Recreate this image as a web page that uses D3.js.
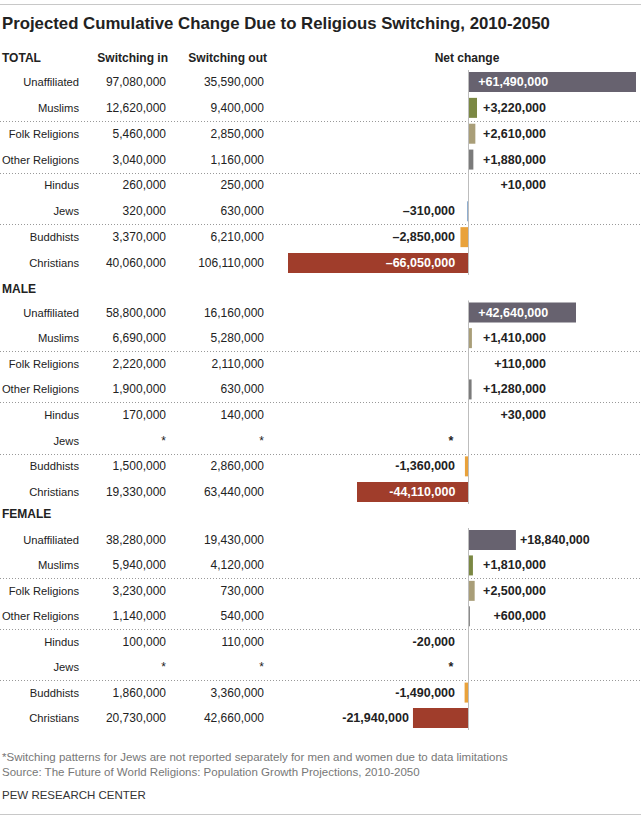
<!DOCTYPE html>
<html>
<head>
<meta charset="utf-8">
<script src="https://cdn.jsdelivr.net/npm/d3@7"></script>
<style>
  html, body { margin: 0; padding: 0; background: #fff; }
  svg { display: block; }
  text { font-family: "Liberation Sans", Arial, sans-serif; }
</style>
</head>
<body>
<svg id="chart" width="641" height="831"></svg>
<script>
// ---------- data ----------
const religions = ["Unaffiliated", "Muslims", "Folk Religions", "Other Religions", "Hindus", "Jews", "Buddhists", "Christians"];
const columnHeaders = ["Switching in", "Switching out", "Net change"];
const panelNames = ["TOTAL", "MALE", "FEMALE"];

const totalIn  = [97080000, 12620000, 5460000, 3040000, 260000, 320000, 3370000, 40060000];
const totalOut = [35590000, 9400000, 2850000, 1160000, 250000, 630000, 6210000, 106110000];
const totalNet = [61490000, 3220000, 2610000, 1880000, 10000, -310000, -2850000, -66050000];

const maleIn  = [58800000, 6690000, 2220000, 1900000, 170000, null, 1500000, 19330000];
const maleOut = [16160000, 5280000, 2110000, 630000, 140000, null, 2860000, 63440000];
const maleNet = [42640000, 1410000, 110000, 1280000, 30000, null, -1360000, -44110000];

const femaleIn  = [38280000, 5940000, 3230000, 1140000, 100000, null, 1860000, 20730000];
const femaleOut = [19430000, 4120000, 730000, 540000, 110000, null, 3360000, 42660000];
const femaleNet = [18840000, 1810000, 2500000, 600000, -20000, null, -1490000, -21940000];

const footnote = "*Switching patterns for Jews are not reported separately for men and women due to data limitations";
const source = "Source: The Future of World Religions: Population Growth Projections, 2010-2050";
const credit = "PEW RESEARCH CENTER";
const title = "Projected Cumulative Change Due to Religious Switching, 2010-2050";

// ---------- styles ----------
const colors = {
  "Unaffiliated": "#67626f",
  "Muslims": "#7b8843",
  "Folk Religions": "#a99e78",
  "Other Religions": "#7b7b7b",
  "Hindus": "#222222",
  "Jews": "#4d7fb5",
  "Buddhists": "#e9a23b",
  "Christians": "#a03d2b"
};

const svg = d3.select("#chart");
const W = 641;

// top rule
svg.append("line").attr("x1", 0).attr("x2", W).attr("y1", 4.5).attr("y2", 4.5)
  .attr("stroke", "#c8c8c8").attr("stroke-width", 1);

const titleEl = svg.append("text").attr("x", 2).attr("y", 29)
  .attr("font-weight", "bold").attr("font-size", 20).attr("fill", "#222")
  .text(title);
// fit title to the reference width
const tw = titleEl.node().getComputedTextLength();
titleEl.attr("font-size", 20 * 548 / tw);

const fmtN = d3.format(",");
const xCol = { label: 79, inn: 166, out: 264 };

const totalScale = d3.scaleLinear().domain([d3.min(totalNet), d3.max(totalNet)]).range([288, 636]);
const genderScale = d3.scaleLinear().domain([d3.min(maleNet), d3.max(maleNet)]).range([357, 576]);

const panels = [
  { name: panelNames[0], headerY: 58, y0: 82, y1: 263, ins: totalIn, outs: totalOut, net: totalNet, x: totalScale, dash: "\u2013", headers: true },
  { name: panelNames[1], headerY: 289, y0: 312.5, y1: 492, ins: maleIn, outs: maleOut, net: maleNet, x: genderScale, dash: "-", override: { "Muslims": "#a99e78" } },
  { name: panelNames[2], headerY: 514, y0: 540, y1: 718, ins: femaleIn, outs: femaleOut, net: femaleNet, x: genderScale, dash: "-" }
];

const barH = 20;
const fontBody = 12;
const fontLabel = 11.2;
const fontNet = 12.5;

panels.forEach(p => {
  const g = svg.append("g");
  const y = d3.scalePoint().domain(religions).range([p.y0, p.y1]);

  // section header
  g.append("text").attr("x", 2).attr("y", p.headerY + 4)
    .attr("font-weight", "bold").attr("font-size", 12).attr("fill", "#222")
    .text(p.name);
  if (p.headers) {
    g.append("text").attr("x", 168).attr("y", p.headerY + 4).attr("text-anchor", "end")
      .attr("font-weight", "bold").attr("font-size", 12).attr("fill", "#222").text(columnHeaders[0]);
    g.append("text").attr("x", 267).attr("y", p.headerY + 4).attr("text-anchor", "end")
      .attr("font-weight", "bold").attr("font-size", 12).attr("fill", "#222").text(columnHeaders[1]);
    g.append("text").attr("x", 467).attr("y", p.headerY + 4).attr("text-anchor", "middle")
      .attr("font-weight", "bold").attr("font-size", 12).attr("fill", "#222").text(columnHeaders[2]);
  }

  // dotted separators
  [1, 3, 5].forEach(i => {
    const yy = Math.round((y(religions[i]) + y(religions[i + 1])) / 2) + 0.5;
    g.append("line").attr("x1", 0).attr("x2", W).attr("y1", yy).attr("y2", yy)
      .attr("stroke", "#999").attr("stroke-width", 1).attr("stroke-dasharray", "1,2");
  });

  const rows = religions.map((r, i) => ({ r, i, inn: p.ins[i], out: p.outs[i], net: p.net[i] }));

  // bars
  g.selectAll("rect.bar").data(rows.filter(d => d.net !== null)).join("rect")
    .attr("class", "bar")
    .attr("x", d => Math.min(p.x(0), p.x(d.net)))
    .attr("width", d => Math.abs(p.x(d.net) - p.x(0)))
    .attr("y", d => y(d.r) - barH / 2)
    .attr("height", barH)
    .attr("fill", d => (p.override && p.override[d.r]) || colors[d.r]);

  // zero axis line
  const zx = Math.round(p.x(0)) + 0.5;
  g.append("line").attr("x1", zx).attr("x2", zx)
    .attr("y1", p.y0 - barH / 2 - 2).attr("y2", p.y1 + barH / 2 + 2)
    .attr("stroke", "#bdbdbd").attr("stroke-width", 1);

  // left columns
  rows.forEach(d => {
    const yy = y(d.r) + 4;
    g.append("text").attr("x", xCol.label).attr("y", yy).attr("text-anchor", "end")
      .attr("font-size", fontLabel).attr("fill", "#222").text(d.r);
    g.append("text").attr("x", xCol.inn).attr("y", yy).attr("text-anchor", "end")
      .attr("font-size", fontBody).attr("fill", "#222").text(d.inn === null ? "*" : fmtN(d.inn));
    g.append("text").attr("x", xCol.out).attr("y", yy).attr("text-anchor", "end")
      .attr("font-size", fontBody).attr("fill", "#222").text(d.out === null ? "*" : fmtN(d.out));

    // net label
    const z = p.x(0);
    if (d.net === null) {
      g.append("text").attr("x", 451).attr("y", yy).attr("text-anchor", "middle")
        .attr("font-weight", "bold").attr("font-size", fontNet).attr("fill", "#222").text("*");
      return;
    }
    const label = d.net >= 0 ? "+" + fmtN(d.net) : p.dash + fmtN(-d.net);
    const end = p.x(d.net);
    const w = Math.abs(end - z);
    let x, anchor, fill = "#222";
    if (d.net >= 0) {
      if (w > 100) { x = z + 10; anchor = "start"; fill = "#fff"; }
      else if (end > 500) { x = end + 4; anchor = "start"; }
      else { x = 546; anchor = "end"; }
    } else {
      if (w > 100) { x = z - 13; anchor = "end"; fill = "#fff"; }
      else if (end - 4 < 455) { x = end - 4; anchor = "end"; }
      else { x = 455; anchor = "end"; }
    }
    g.append("text").attr("x", x).attr("y", yy).attr("text-anchor", anchor)
      .attr("font-weight", "bold").attr("font-size", fontNet).attr("fill", fill).text(label);
  });
});

// footer
svg.append("text").attr("x", 2).attr("y", 761).attr("font-size", 11.5).attr("fill", "#777").text(footnote);
svg.append("text").attr("x", 2).attr("y", 776).attr("font-size", 11.5).attr("fill", "#777").text(source);
svg.append("text").attr("x", 2).attr("y", 799).attr("font-size", 11.5).attr("fill", "#333").text(credit);
svg.append("line").attr("x1", 0).attr("x2", W).attr("y1", 814.5).attr("y2", 814.5)
  .attr("stroke", "#c8c8c8").attr("stroke-width", 1);
</script>
</body>
</html>
